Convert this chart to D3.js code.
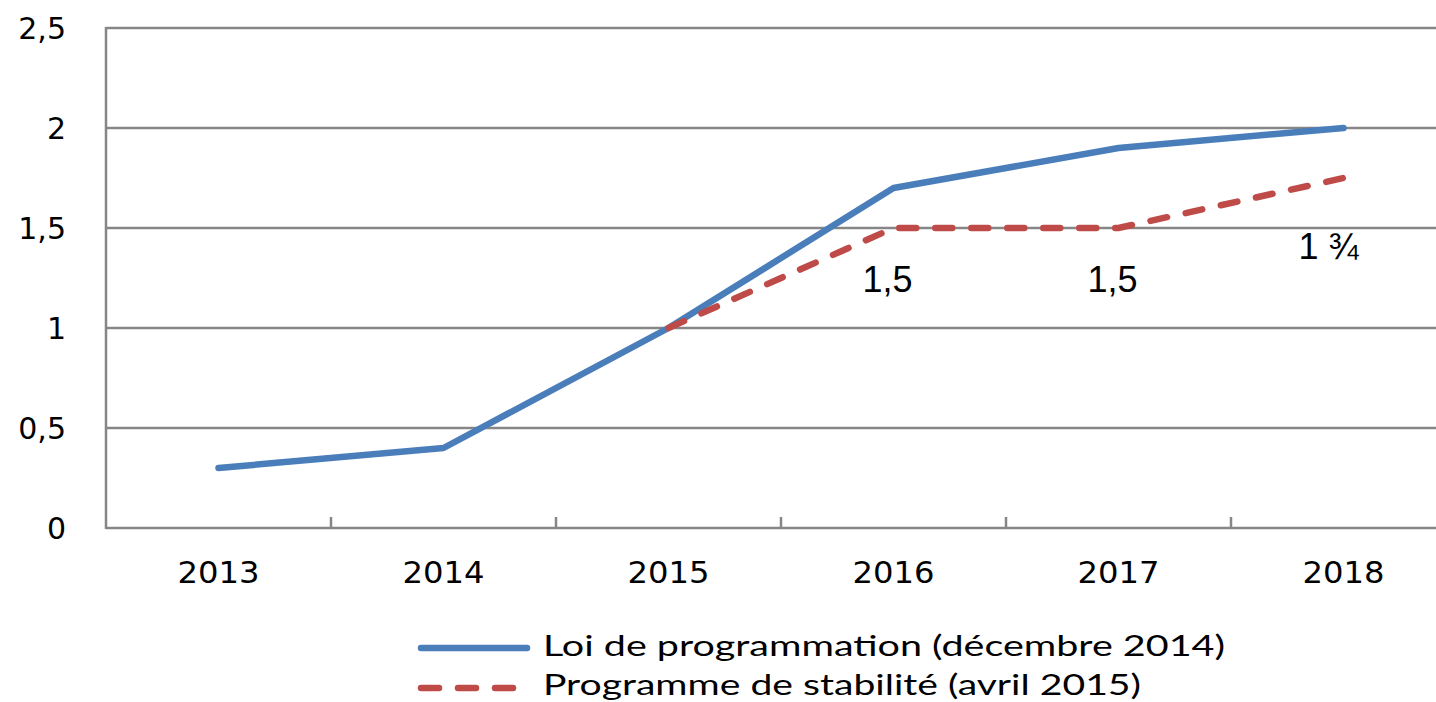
<!DOCTYPE html>
<html lang="fr">
<head>
    <meta charset="UTF-8">
    <title>Loi de programmation vs Programme de stabilité</title>
    <script src="https://d3js.org/d3.v7.min.js"></script>
    <style>
        body { margin: 0; background: #fff; }
        .tick-label { font-family: "DejaVu Sans", Verdana, sans-serif; font-size: 30px; fill: #000; }
        .data-label { font-family: "Liberation Sans", Arial, sans-serif; font-size: 36px; fill: #000; }
        .legend-label { font-family: Lato, "Open Sans", sans-serif; font-size: 28px; fill: #000; }
    </style>
</head>
<body>
    <svg width="1436" height="702"></svg>
    <script>
        const width = 1436;
        const height = 702;

        // Data
        const years = ["2013", "2014", "2015", "2016", "2017", "2018"];
        const loiProgrammation = [0.3, 0.4, 1.0, 1.7, 1.9, 2.0];
        const programmeStabilite = [null, null, 1.0, 1.5, 1.5, 1.75];
        const stabiliteLabels = [null, null, null, "1,5", "1,5", "1 ¾"];
        const yTicks = [0, 0.5, 1, 1.5, 2, 2.5];
        const seriesNames = ["Loi de programmation (décembre 2014)", "Programme de stabilité (avril 2015)"];

        const blue = "#4a7ebb";
        const red = "#be4b48";
        const grey = "#868686";

        const margin = {left: 106, top: 28, bottom: 528, right: 1456};

        const svg = d3.select("svg");

        const x = d3.scaleBand()
            .domain(years)
            .range([margin.left, margin.right]);

        const y = d3.scaleLinear()
            .domain([0, 2.5])
            .range([margin.bottom, margin.top]);

        // horizontal gridlines
        svg.append("g")
            .selectAll("line")
            .data(yTicks.filter(d => d > 0))
            .enter().append("line")
            .attr("x1", margin.left)
            .attr("x2", width)
            .attr("y1", d => y(d))
            .attr("y2", d => y(d))
            .attr("stroke", grey)
            .attr("stroke-width", 2.5);

        // y labels
        svg.append("g")
            .selectAll("text")
            .data(yTicks)
            .enter().append("text")
            .attr("class", "tick-label")
            .attr("x", 66)
            .attr("y", d => y(d) + 11)
            .attr("text-anchor", "end")
            .text(d => String(d).replace(".", ","));

        // axes
        svg.append("line")
            .attr("x1", margin.left).attr("x2", width)
            .attr("y1", margin.bottom).attr("y2", margin.bottom)
            .attr("stroke", grey).attr("stroke-width", 2.5);

        svg.append("line")
            .attr("x1", margin.left).attr("x2", margin.left)
            .attr("y1", margin.top - 1).attr("y2", margin.bottom + 1)
            .attr("stroke", grey).attr("stroke-width", 2.5);

        svg.append("g")
            .selectAll("line")
            .data(years.slice(1))
            .enter().append("line")
            .attr("x1", d => x(d)).attr("x2", d => x(d))
            .attr("y1", margin.bottom - 11).attr("y2", margin.bottom)
            .attr("stroke", grey).attr("stroke-width", 2.5);

        svg.append("g")
            .selectAll("text")
            .data(years)
            .enter().append("text")
            .attr("class", "tick-label")
            .attr("x", d => x(d) + x.bandwidth() / 2)
            .attr("y", 583)
            .attr("text-anchor", "middle")
            .attr("textLength", 82)
            .attr("lengthAdjust", "spacingAndGlyphs")
            .text(d => d);

        const cx = (d, i) => x(years[i]) + x.bandwidth() / 2;

        const line = d3.line()
            .defined(d => d != null)
            .x(cx)
            .y(d => y(d));

        svg.append("path")
            .datum(loiProgrammation)
            .attr("d", line)
            .attr("fill", "none")
            .attr("stroke", blue)
            .attr("stroke-width", 6.5)
            .attr("stroke-linecap", "round")
            .attr("stroke-linejoin", "round");

        svg.append("path")
            .datum(programmeStabilite)
            .attr("d", line)
            .attr("fill", "none")
            .attr("stroke", red)
            .attr("stroke-width", 6.5)
            .attr("stroke-linecap", "round")
            .attr("stroke-dasharray", "17,19");

        // data labels under the red line (the last one sits lower, under the 1,5 gridline)
        svg.append("g")
            .selectAll("text")
            .data(stabiliteLabels.map((t, i) => ({t, i})).filter(d => d.t))
            .enter().append("text")
            .attr("class", "data-label")
            .attr("x", d => cx(null, d.i) - 6 - (d.i === 5 ? 9 : 0))
            .attr("y", d => y(programmeStabilite[d.i]) + (d.i === 5 ? 81 : 64))
            .attr("text-anchor", "middle")
            .text(d => d.t);

        // legend
        const legend = svg.append("g");
        legend.append("line")
            .attr("x1", 421).attr("x2", 527)
            .attr("y1", 648).attr("y2", 648)
            .attr("stroke", blue).attr("stroke-width", 6.5)
            .attr("stroke-linecap", "round");
        legend.append("line")
            .attr("x1", 421).attr("x2", 527)
            .attr("y1", 688).attr("y2", 688)
            .attr("stroke", red).attr("stroke-width", 6.5)
            .attr("stroke-linecap", "round")
            .attr("stroke-dasharray", "18,19");
        legend.selectAll("text")
            .data(seriesNames)
            .enter().append("text")
            .attr("class", "legend-label")
            .attr("x", 543)
            .attr("y", (d, i) => 656 + i * 39)
            .attr("textLength", (d, i) => i === 0 ? 682 : 598)
            .attr("lengthAdjust", "spacingAndGlyphs")
            .text(d => d);
    </script>
</body>
</html>
